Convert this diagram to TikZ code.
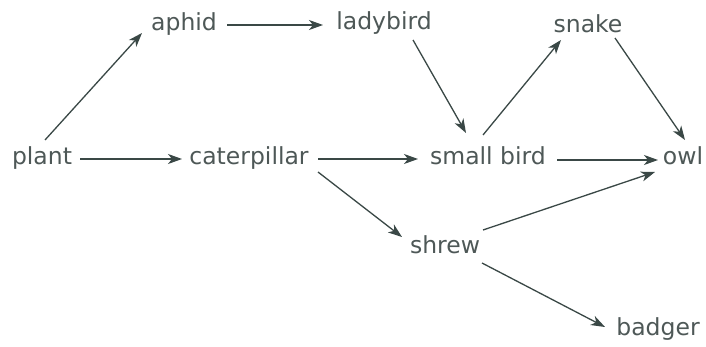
\documentclass[tikz,border=0pt]{standalone}
\usepackage{fontspec}
\setmainfont{DejaVu Sans}
\usetikzlibrary{arrows.meta}
\definecolor{txtc}{RGB}{78,88,87}
\definecolor{arrc}{RGB}{58,72,70}
\begin{document}
\begin{tikzpicture}[x=1pt,y=-1pt,
  lbl/.style={inner sep=0pt, anchor=base, text=txtc, font=\fontsize{23.5}{28}\selectfont},
  arr/.style={draw=arrc, line width=1.3pt, -{Stealth[length=14pt,width=10pt,inset=4pt]}}]
\path[use as bounding box, fill=white] (0,0) rectangle (706,347);
\node[lbl] (plant) at (42,165) {plant};
\node[lbl] (aphid) at (184,31) {aphid};
\node[lbl] (ladybird) at (384,30) {ladybird};
\node[lbl] (snake) at (588,33) {snake};
\node[lbl] (caterpillar) at (249,165) {caterpillar};
\node[lbl] (smallbird) at (488,165) {small bird};
\node[lbl] (owl) at (683,165) {owl};
\node[lbl] (shrew) at (445,253) {shrew};
\node[lbl] (badger) at (658,335) {badger};
\draw[arr] ([shift={(3,-25)}]plant.base) -- ([shift={(-42,2)}]aphid.base);
\draw[arr] ([shift={(43,-6)}]aphid.base) -- ([shift={(-61,-5)}]ladybird.base);
\draw[arr] ([shift={(29,10)}]ladybird.base) -- ([shift={(-22,-32)}]smallbird.base);
\draw[arr] ([shift={(-5,-30)}]smallbird.base) -- ([shift={(-27,7)}]snake.base);
\draw[arr] ([shift={(27,5)}]snake.base) -- ([shift={(2,-25)}]owl.base);
\draw[arr] ([shift={(38,-6)}]plant.base) -- ([shift={(-67,-6)}]caterpillar.base);
\draw[arr] ([shift={(69,-6)}]caterpillar.base) -- ([shift={(-70,-6)}]smallbird.base);
\draw[arr] ([shift={(69,-5)}]smallbird.base) -- ([shift={(-25,-5)}]owl.base);
\draw[arr] ([shift={(69,7)}]caterpillar.base) -- ([shift={(-43,-16)}]shrew.base);
\draw[arr] ([shift={(38,-23)}]shrew.base) -- ([shift={(-28,7)}]owl.base);
\draw[arr] ([shift={(37,10)}]shrew.base) -- ([shift={(-53,-8)}]badger.base);
\end{tikzpicture}
\end{document}
